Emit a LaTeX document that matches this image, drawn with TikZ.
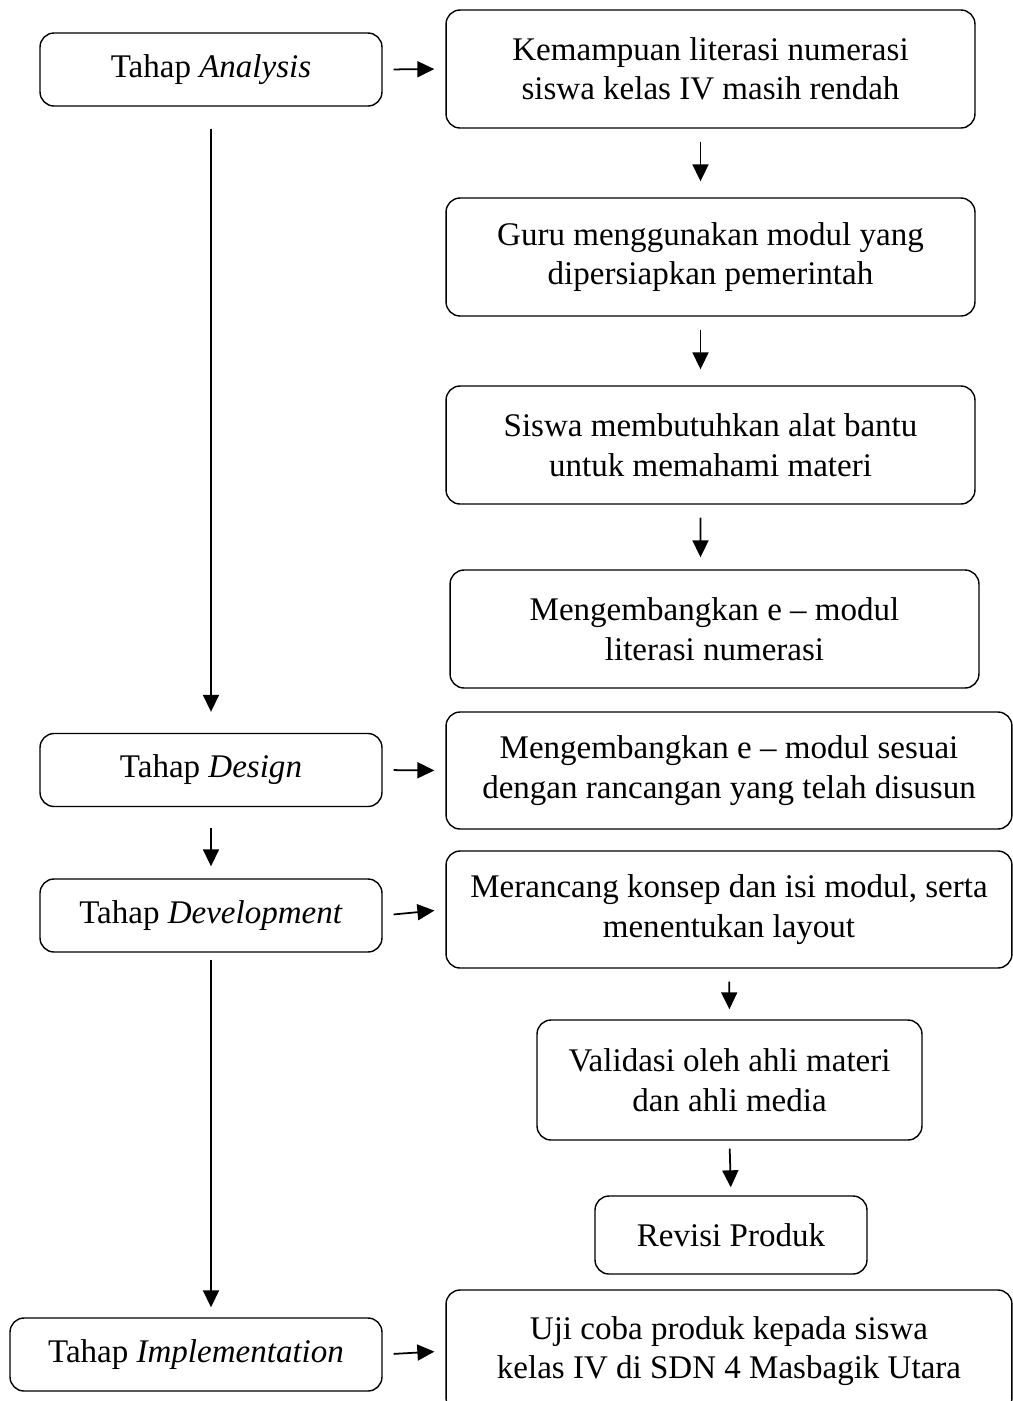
\documentclass[tikz,border=0pt]{standalone}
\usepackage{fontspec}
\setmainfont{Liberation Serif}
\usepackage{tikz}
\usetikzlibrary{arrows.meta}
\usetikzlibrary{calc}

\begin{document}
\begin{tikzpicture}[x=0.02cm, y=-0.02cm,
    box/.style={draw, rounded corners=0.28cm, line width=0.8pt, align=center,
        inner sep=0pt, font=\fontsize{18.8}{22.5}\selectfont},
    tahap/.style={box, minimum width=6.84cm, minimum height=1.46cm},
    arr/.style={line width=1pt, -{Triangle[length=0.34cm, width=0.32cm]}}]
    \useasboundingbox (0, 0) rectangle (1013, 1401);

    % left column
    \node[tahap] (ana) at (211, 69.5) {Tahap \textit{Analysis}};
    \node[tahap] (des) at (211, 770) {Tahap \textit{Design}};
    \node[tahap] (dev) at (211, 915.5) {Tahap \textit{Development}};
    \node[tahap, minimum width=7.44cm] (imp) at (196, 1354.5) {Tahap \textit{Implementation}};

    % right column
    \node[box, minimum width=10.58cm, minimum height=2.36cm] (kem) at (710.5, 69)
        {Kemampuan literasi numerasi\\siswa kelas IV masih rendah};
    \node[box, minimum width=10.58cm, minimum height=2.36cm] (guru) at (710.5, 257)
        {Guru menggunakan modul yang\\dipersiapkan pemerintah};
    \node[box, minimum width=10.58cm, minimum height=2.36cm] (sis) at (710.5, 445)
        {Siswa membutuhkan alat bantu\\untuk memahami materi};
    \node[box, minimum width=10.58cm, minimum height=2.36cm] (emod) at (714.5, 629)
        {Mengembangkan e -- modul\\literasi numerasi};
    \node[box, minimum width=11.32cm, minimum height=2.34cm] (kembang) at (729, 770.5)
        {Mengembangkan e -- modul sesuai\\dengan rancangan yang telah disusun};
    \node[box, minimum width=11.32cm, minimum height=2.34cm] (ranc) at (729, 909.5)
        {Merancang konsep dan isi modul, serta\\menentukan layout};
    \node[box, minimum width=7.7cm, minimum height=2.4cm] (val) at (729.5, 1080)
        {Validasi oleh ahli materi\\dan ahli media};
    \node[box, minimum width=5.44cm, minimum height=1.56cm] (rev) at (731, 1235)
        {Revisi Produk};
    \node[box, minimum width=11.32cm, minimum height=2.44cm] (uji) at (729, 1351)
        {Uji coba produk kepada siswa\\kelas IV di SDN 4 Masbagik Utara};

    % tahap -> isi
    \draw[arr, shorten <=0.22cm, shorten >=0.22cm] (ana.east) -- (kem.west);
    \draw[arr, shorten <=0.22cm, shorten >=0.22cm] (des.east) -- (kembang.west);
    \draw[arr, shorten <=0.22cm, shorten >=0.22cm] (dev.east) -- (ranc.west);
    \draw[arr, shorten <=0.22cm, shorten >=0.22cm] (imp.east) -- (uji.west);

    % tahap -> tahap
    \draw[arr, shorten <=0.44cm, shorten >=0.42cm] (ana.south) -- (des.north);
    \draw[arr, shorten <=0.42cm, shorten >=0.24cm] (des.south) -- (dev.north);
    \draw[arr, shorten <=0.14cm, shorten >=0.2cm] (dev.south) -- (dev.south |- imp.north);

    % isi -> isi
    \draw[arr, shorten <=0.26cm, shorten >=0.32cm] ([xshift=-0.2cm]kem.south) -- ([xshift=-0.2cm]guru.north);
    \draw[arr, shorten <=0.26cm, shorten >=0.32cm] ([xshift=-0.2cm]guru.south) -- ([xshift=-0.2cm]sis.north);
    \draw[arr, shorten <=0.26cm, shorten >=0.24cm] ([xshift=-0.2cm]sis.south) -- ([xshift=-0.28cm]emod.north);
    \draw[arr, shorten <=0.26cm, shorten >=0.2cm] (ranc.south) -- (val.north);
    \draw[arr, shorten <=0.16cm, shorten >=0.16cm] (val.south) -- (rev.north);
\end{tikzpicture}
\end{document}
